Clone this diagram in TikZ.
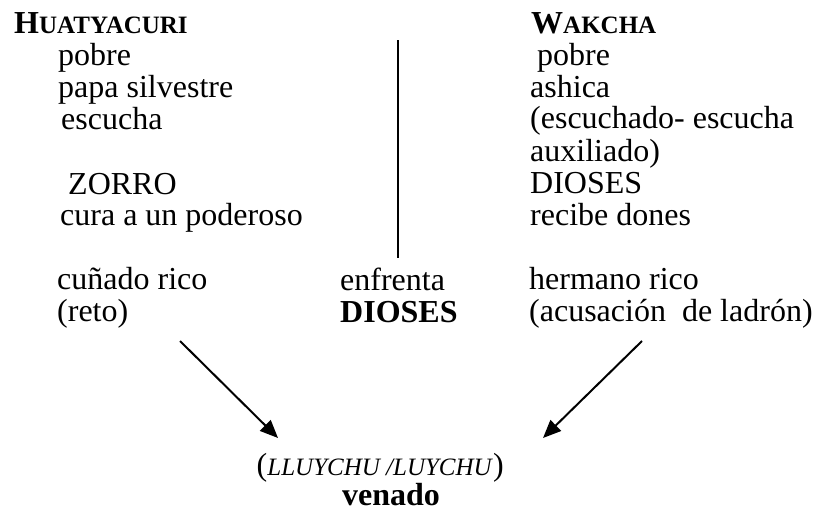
\documentclass[tikz,border=0pt]{standalone}
\usepackage{fontspec}
\setmainfont{Liberation Serif}
\usetikzlibrary{arrows.meta}
\newcommand\myfsc[1]{{\fontsize{25}{25}\selectfont #1}}
\begin{document}
\begin{tikzpicture}[x=1pt,y=-1pt,
  txt/.style={anchor=base west,inner sep=0pt,font=\fontsize{32}{32}\selectfont},
  arr/.style={line width=2pt,-{Triangle[length=18pt,width=15pt]}},
  divider/.style={line width=1.7pt}]
\useasboundingbox (0,0) rectangle (816,515);
% left column
\node[txt] (hua) at (14,33) {\textbf{H\myfsc{UATYACURI}}};
\node[txt] (l1) at (58,65) {pobre};
\node[txt] (l2) at (58,97) {papa silvestre};
\node[txt] (l3) at (61,129) {escucha};
\node[txt] (l4) at (68,194) {ZORRO};
\node[txt] (l5) at (60,225) {cura a un poderoso};
\node[txt] (l6) at (57,289) {cuñado rico};
\node[txt] (l7) at (57,321) {(reto)};
% middle
\coordinate (vtop) at (398,40);
\coordinate (vbot) at (398,258);
\draw[divider] (vtop) -- (vbot);
\node[txt] (m1) at (340,290) {enfrenta};
\node[txt] (m2) at (340,322) {\textbf{DIOSES}};
% right column
\node[txt] (wak) at (531,33) {\textbf{W\myfsc{AKCHA}}};
\node[txt] (r1) at (537,65) {pobre};
\node[txt] (r2) at (530,97) {ashica};
\node[txt] (r3) at (530,128) {(escuchado- escucha};
\node[txt] (r4) at (530,161) {auxiliado)};
\node[txt] (r5) at (530,193) {DIOSES};
\node[txt] (r6) at (530,225) {recibe dones};
\node[txt] (r7) at (529,289) {hermano rico};
\node[txt] (r8) at (529,321) {(acusación\ \ de ladrón)};
% bottom
\node[txt,anchor=base east] (ll) at (504,475) {(\textit{\myfsc{LLUYCHU /LUYCHU}})};
\node[txt] (ven) at (342,505) {\textbf{venado}};
% arrows
\coordinate (a1s) at (180,341);
\coordinate (a1e) at (278,438);
\coordinate (a2s) at (642,341);
\coordinate (a2e) at (543,438);
\draw[arr] (a1s) -- (a1e);
\draw[arr] (a2s) -- (a2e);
\end{tikzpicture}
\end{document}
